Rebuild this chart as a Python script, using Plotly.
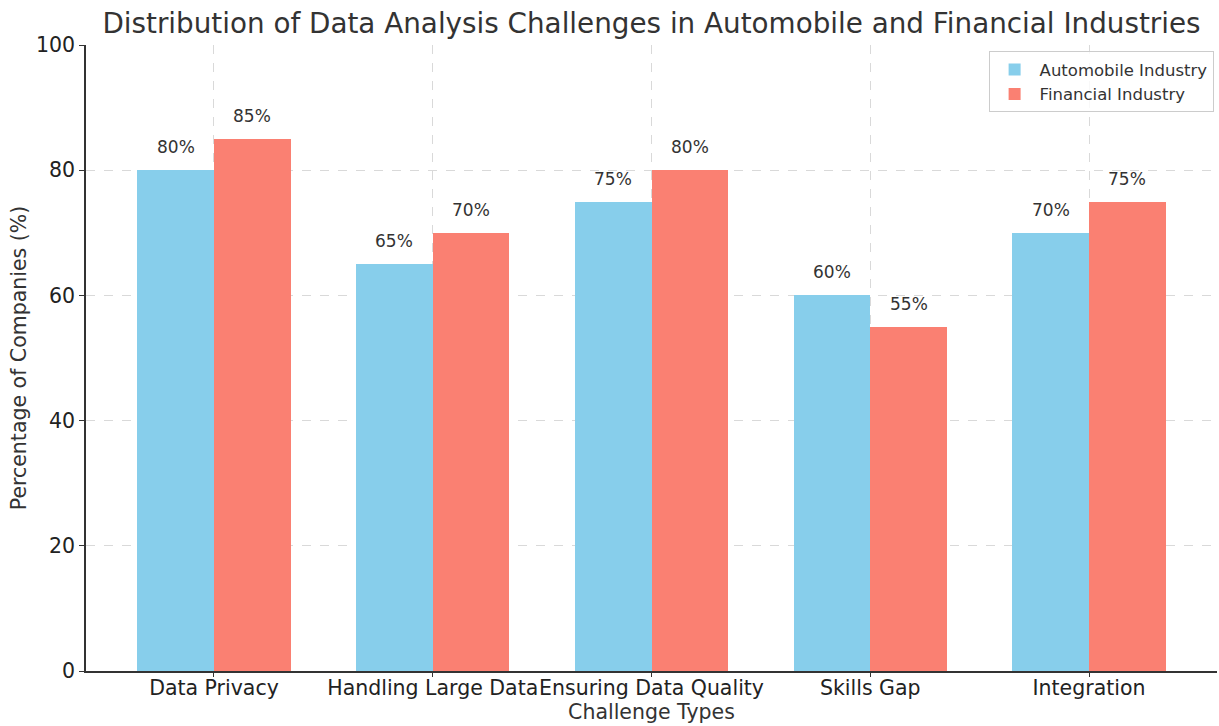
import plotly.graph_objects as go

categories = ["Data Privacy", "Handling Large Data", "Ensuring Data Quality", "Skills Gap", "Integration"]
automobile = [80, 65, 75, 60, 70]
financial = [85, 70, 80, 55, 75]
series_names = ["Automobile Industry", "Financial Industry"]
colors = ["#87CEEB", "#FA8072"]

FONT = "DejaVu Sans"
width = 0.35
xs = list(range(len(categories)))

fig = go.Figure()
for k, (vals, name, col) in enumerate(zip([automobile, financial], series_names, colors)):
    offset = (k - 0.5) * width
    fig.add_trace(go.Bar(
        x=[x + offset for x in xs], y=vals, width=width, name=name,
        marker=dict(color=col, line=dict(width=0)),
    ))
    for x, v in zip(xs, vals):
        fig.add_annotation(x=x + offset, y=v, text=f"{v}%", showarrow=False,
                           yanchor="bottom", yshift=11,
                           font=dict(family=FONT, size=17, color="#333333"))

fig.update_layout(
    width=1219, height=726,
    margin=dict(l=86, r=2, t=45, b=55, autoexpand=False),
    plot_bgcolor="white", paper_bgcolor="white",
    font=dict(family=FONT, color="#333333"),
    title=dict(text="Distribution of Data Analysis Challenges in Automobile and Financial Industries",
               x=(86 + 1217) / 2 / 1219, xanchor="center", y=1 - 23 / 726, yanchor="middle",
               font=dict(family=FONT, size=27.8, color="#333333")),
    legend=dict(x=0.997, y=0.99, xanchor="right", yanchor="top",
                bordercolor="#cccccc", borderwidth=1, bgcolor="rgba(255,255,255,0.8)",
                font=dict(family=FONT, size=16.5, color="#333333"),
                itemwidth=40),
    showlegend=True,
    bargap=0,
)
fig.update_xaxes(
    tickmode="array", tickvals=xs, ticktext=categories, tickangle=0,
    range=[-0.585, 4.585],
    showgrid=True, gridcolor="#d9d9d9", griddash="dash", gridwidth=1,
    showline=True, linecolor="#333333", linewidth=1.5,
    ticks="outside", ticklen=4, tickcolor="#333333",
    ticklabelstandoff=-6,
    tickfont=dict(family=FONT, size=20.5, color="#222222"),
    title=dict(text="Challenge Types", font=dict(family=FONT, size=20.5, color="#333333"), standoff=4),
    zeroline=False,
    automargin=False,
)
fig.update_yaxes(
    range=[0, 100], tickvals=[0, 20, 40, 60, 80, 100],
    showgrid=True, gridcolor="#d9d9d9", griddash="dash", gridwidth=1,
    showline=True, linecolor="#333333", linewidth=1.5,
    ticks="outside", ticklen=5, tickcolor="#333333",
    tickfont=dict(family=FONT, size=20.5, color="#222222"),
    title=dict(text="Percentage of Companies (%)", font=dict(family=FONT, size=20.5, color="#333333"), standoff=4),
    zeroline=False,
    automargin=False,
)
fig.write_html("out.html", config={"displayModeBar": False},
               post_script="document.body.style.margin='0';document.body.style.overflow='hidden';")
